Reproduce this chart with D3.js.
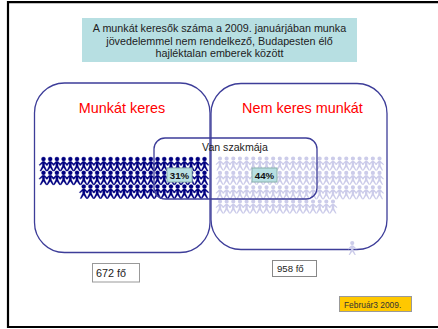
<!DOCTYPE html>
<html><head><meta charset="utf-8">
<script src="https://cdn.jsdelivr.net/npm/d3@7"></script>
<style>html,body{margin:0;padding:0;background:#fff}svg{display:block}text{font-family:"Liberation Sans",Arial,sans-serif}</style>
</head><body><svg id="c" width="438" height="329"></svg>
<script>
const titleLines=["A munkát keresők száma a 2009. januárjában munka","jövedelemmel nem rendelkező, Budapesten élő","hajléktalan emberek között"];
const groupNames=["Munkát keres","Nem keres munkát"];
const overlapName="Van szakmája";
const totals=["672 fő","958 fő"];
const shares=["31%","44%"];
const dateLabel="Február3 2009.";
const seekerRows=[25,25,19];
const nonSeekerRows=[25,25,25,18];
const svg=d3.select("#c");
const columnCount=25;
const xSeek=d3.scaleLinear().domain([0,columnCount-1]).range([43.5,204.5]);
const xNon=d3.scaleLinear().domain([0,columnCount-1]).range([220,379.5]);
const ySeek=d3.scaleLinear().domain([0,2]).range([157,184.5]);
const yNon=d3.scaleLinear().domain([0,3]).range([156.5,199.5]);
const person="M0,0a2.1,2.1 0 1,1 0,4.2a2.1,2.1 0 1,1 0,-4.2M-1.1,4.4H1.1L4.4,7.8L3.8,8.6L1.2,6.6V9L3.6,14H2.4L0,10.4L-2.4,14H-3.6L-1.2,9V6.6L-3.8,8.6L-4.4,7.8Z";

function rect(x,y,w,h,fill,stroke,sw,r){svg.append("rect").attr("x",x).attr("y",y).attr("width",w).attr("height",h).attr("fill",fill).attr("stroke",stroke).attr("stroke-width",sw).attr("rx",r||0);}
function label(x,y,t,size,fill,anchor,weight){svg.append("text").attr("x",x).attr("y",y).attr("font-size",size).attr("fill",fill).attr("text-anchor",anchor||"middle").attr("font-weight",weight||"normal").text(t);}
function people(rows,x,y,fill,alignEnd,sw){
  const cells=rows.flatMap((n,r)=>d3.range(n).map(i=>({r,c:alignEnd?columnCount-n+i:i})));
  svg.append("g").selectAll("path").data(cells).join("path").attr("d",person).attr("fill",fill).attr("stroke",fill).attr("stroke-width",sw)
    .attr("transform",d=>`translate(${x(d.c)},${y(d.r)})`);
}
// frame
svg.append("path").attr("d","M440,2.2H8V327H440").attr("fill","none").attr("stroke","#000").attr("stroke-width",2.2);
rect(82,18,275,44,"#b7dfe2","none",0);
titleLines.forEach((t,i)=>label(219.5,32+i*12.7,t,10.75,"#222"));
people(seekerRows,xSeek,ySeek,"#000080",true,0.3);
people(nonSeekerRows,xNon,yNon,"#ccccea",false,0);
rect(34.5,83,175.5,169.5,"none","#3d3d99",1.3,30);
rect(211,83.5,176,166,"none","#3d3d99",1.3,30);
rect(154,138,163,61,"none","#3d3d99",1.3,11);
svg.append("path").attr("d",person).attr("fill","#ccccea").attr("transform",`translate(${xNon(19.9)},241)`);
label(122,113,groupNames[0],14.4,"#ff0000");
label(302.5,113,groupNames[1],14.4,"#ff0000");
label(235,151,overlapName,10.6,"#222");
[[167,192],[252,277]].forEach((p,i)=>{rect(p[0],168,p[1]-p[0],14,"#b7dfe2","#8ab0ac",1);label((p[0]+p[1])/2,178.6,shares[i],9.7,"#111","middle","bold");});
rect(92.5,263.5,47,18.5,"#fff","#999",1);label(96,276.5,totals[0],10.8,"#222","start");
rect(272.5,260.5,44,16,"#fff","#888",1);label(277,272,totals[1],9.6,"#222","start");
rect(339.5,296.5,72,15,"#ffc800","#999",1);label(344,307.5,dateLabel,8.4,"#333","start");
</script></body></html>
